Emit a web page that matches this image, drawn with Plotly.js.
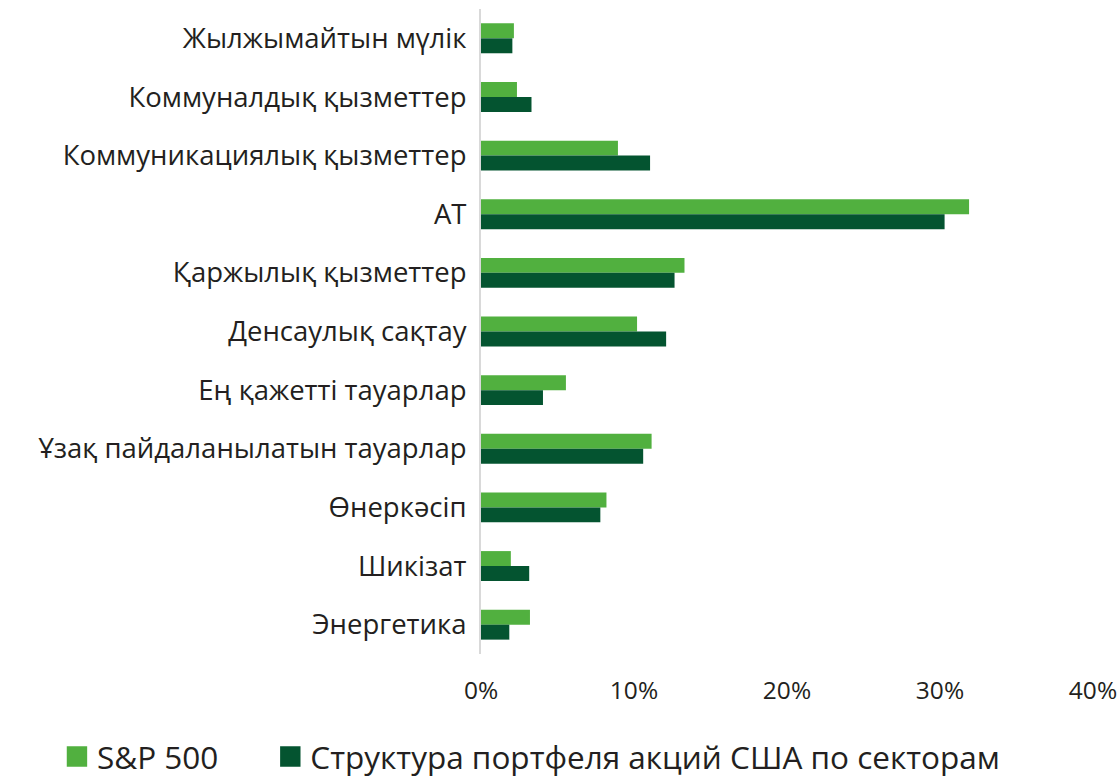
<!DOCTYPE html>
<html>
<head>
<meta charset="utf-8">
<script src="https://cdn.plot.ly/plotly-3.0.1.min.js"></script>
<style>
  html, body { margin: 0; padding: 0; background: #ffffff; }
  #chart { width: 1117px; height: 781px; }
</style>
</head>
<body>
<div id="chart"></div>
<script>
const categories = [
  "Жылжымайтын мүлік",
  "Коммуналдық қызметтер",
  "Коммуникациялық қызметтер",
  "АТ",
  "Қаржылық қызметтер",
  "Денсаулық сақтау",
  "Ең қажетті тауарлар",
  "Ұзақ пайдаланылатын тауарлар",
  "Өнеркәсіп",
  "Шикізат",
  "Энергетика"
];
const sp500 = [2.15, 2.35, 8.95, 31.9, 13.3, 10.2, 5.55, 11.15, 8.2, 1.95, 3.2];
const portfolio = [2.05, 3.3, 11.05, 30.3, 12.65, 12.1, 4.05, 10.6, 7.8, 3.15, 1.85];
const seriesNames = ["S&P 500", "Структура портфеля акций США по секторам"];
const xTickVals = [0, 10, 20, 30, 40];
const xTickText = ["0%", "10%", "20%", "30%", "40%"];

const FONT = "'Open Sans', 'DejaVu Sans', sans-serif";

const traces = [
  {
    type: "bar", orientation: "h", name: seriesNames[0],
    y: categories, x: sp500,
    marker: { color: "#51B03F" },
    legend: "legend",
    hoverinfo: "x+y"
  },
  {
    type: "bar", orientation: "h", name: seriesNames[1],
    y: categories, x: portfolio,
    marker: { color: "#045430" },
    legend: "legend2",
    hoverinfo: "x+y"
  }
];

const legendBase = {
  orientation: "h",
  xref: "container", yref: "container",
  xanchor: "left",
  y: 0.066, yanchor: "top",
  font: { family: FONT, size: 31.5, color: "#231f20" },
  itemclick: false, itemdoubleclick: false,
  bgcolor: "rgba(0,0,0,0)"
};

const layout = {
  width: 1117, height: 781,
  margin: { l: 481, r: 24, t: 9, b: 127, pad: 0 },
  paper_bgcolor: "#ffffff", plot_bgcolor: "#ffffff",
  font: { family: FONT, color: "#231f20" },
  barmode: "group",
  bargap: 0.49,
  bargroupgap: 0,
  showlegend: true,
  xaxis: {
    range: [0, 40],
    tickvals: xTickVals, ticktext: xTickText,
    showgrid: false, zeroline: false, showline: false,
    ticks: "", ticklabelstandoff: 19,
    ticklabeloverflow: "allow",
    tickfont: { family: FONT, size: 24.5, color: "#231f20" },
    fixedrange: true
  },
  yaxis: {
    type: "category",
    autorange: "reversed",
    showgrid: false, zeroline: false,
    showline: true, linecolor: "#d9d9d9", linewidth: 2,
    ticks: "", ticklabelstandoff: 7,
    tickfont: { family: FONT, size: 27.5, color: "#231f20" },
    fixedrange: true
  },
  legend: Object.assign({}, legendBase, { x: 0.051 }),
  legend2: Object.assign({}, legendBase, { x: 0.242 })
};

Plotly.newPlot("chart", traces, layout, { displayModeBar: false }).then(function (gd) {
  gd.querySelectorAll(".legendpoints path").forEach(function (p) {
    const t = p.getAttribute("transform") || "";
    p.setAttribute("transform", t + " scale(1.7)");
  });
});
</script>
</body>
</html>
